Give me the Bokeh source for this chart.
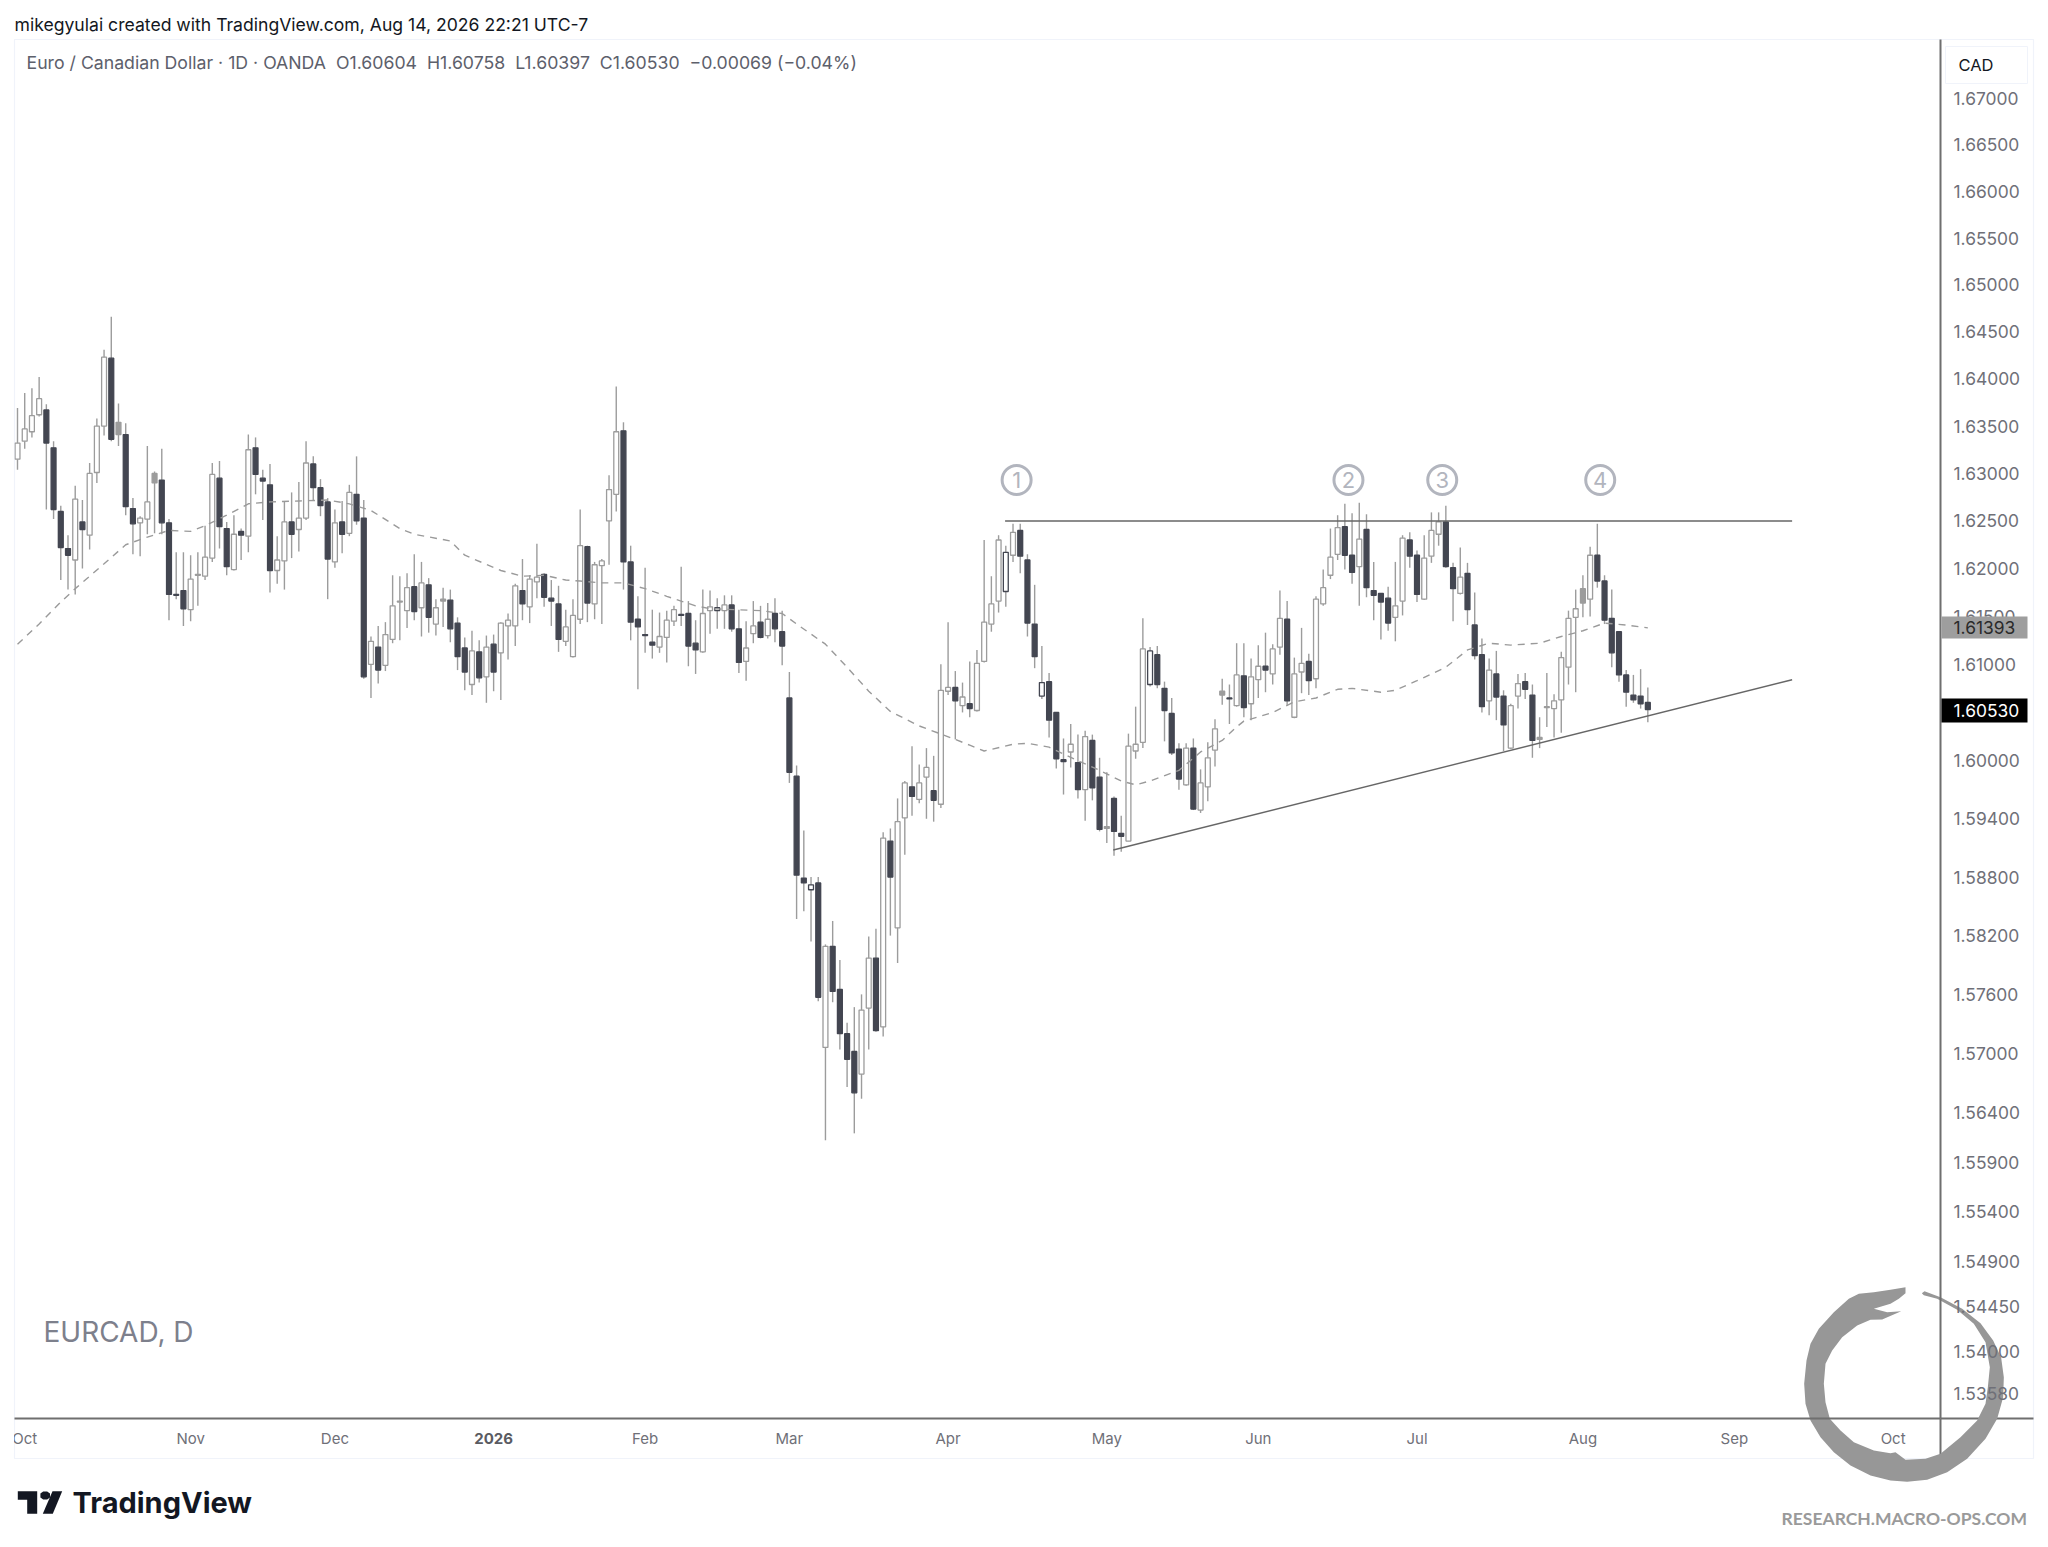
from bokeh.plotting import figure
from bokeh.embed import file_html
from bokeh.resources import INLINE
from bokeh.layouts import column
from bokeh.models import ColumnDataSource, FixedTicker, PrintfTickFormatter, Range1d
from bokeh.core.properties import value
import numpy as np

opens = [1.6315,1.6334,1.6344,1.6362,1.6367,1.6327,1.6260,1.6221,1.6209,1.6249,
1.6235,1.6301,1.6350,1.6422,1.6354,1.6341,1.6263,1.6248,1.6252,1.6300,
1.6293,1.6248,1.6173,1.6177,1.6157,1.6194,1.6192,1.6211,1.6295,1.6242,
1.6199,1.6239,1.6234,1.6327,1.6295,1.6288,1.6198,1.6208,1.6249,1.6241,
1.6253,1.6310,1.6285,1.6270,1.6207,1.6249,1.6237,1.6278,1.6253,1.6100,
1.6118,1.6099,1.6126,1.6166,1.6156,1.6181,1.6159,1.6183,1.6142,1.6168,
1.6167,1.6143,1.6117,1.6079,1.6113,1.6087,1.6121,1.6112,1.6140,1.6140,
1.6177,1.6160,1.6186,1.6194,1.6169,1.6163,1.6124,1.6108,1.6147,1.6223,
1.6163,1.6203,1.6250,1.6278,1.6345,1.6207,1.6147,1.6131,1.6123,1.6118,
1.6128,1.6145,1.6152,1.6153,1.6122,1.6113,1.6156,1.6156,1.6156,1.6162,
1.6137,1.6103,1.6132,1.6144,1.6130,1.6153,1.6134,1.6065,1.5984,1.5879,
1.5867,1.5874,1.5706,1.5809,1.5765,1.5720,1.5702,1.5679,1.5746,1.5797,
1.5727,1.5917,1.5828,1.5941,1.5973,1.5960,1.5983,1.5969,1.5955,1.6072,
1.6076,1.6057,1.6059,1.6052,1.6103,1.6142,1.6166,1.6176,1.6214,1.6240,
1.6209,1.6142,1.6067,1.6082,1.6050,1.6001,1.6009,1.5998,1.5970,1.6021,
1.5983,1.5932,1.5961,1.5925,1.5917,1.6010,1.6019,1.6079,1.6110,1.6075,
1.6049,1.6012,1.5975,1.6013,1.5949,1.5973,1.6011,1.6072,1.6065,1.6057,
1.6088,1.6059,1.6084,1.6098,1.6090,1.6118,1.6147,1.6045,1.6092,1.6103,
1.6085,1.6163,1.6193,1.6215,1.6244,1.6214,1.6202,1.6241,1.6177,1.6174,
1.6169,1.6149,1.6166,1.6230,1.6214,1.6168,1.6213,1.6236,1.6249,1.6201,
1.6174,1.6195,1.6141,1.6110,1.6062,1.6090,1.6067,1.6013,1.6067,1.6082,
1.6068,1.6024,1.6056,1.6054,1.6063,1.6097,1.6149,1.6179,1.6168,1.6214,
1.6187,1.6148,1.6134,1.6089,1.6068,1.6067,1.60604]

closes = [1.6332,1.6347,1.6361,1.6379,1.6332,1.6262,1.6222,1.6214,1.6273,1.6241,
1.6300,1.6350,1.6423,1.6336,1.6341,1.6265,1.6247,1.6253,1.6270,1.6290,
1.6248,1.6173,1.6172,1.6158,1.6189,1.6193,1.6212,1.6299,1.6244,1.6202,
1.6236,1.6235,1.6325,1.6299,1.6292,1.6198,1.6209,1.6249,1.6236,1.6253,
1.6311,1.6285,1.6266,1.6210,1.6248,1.6236,1.6280,1.6250,1.6087,1.6124,
1.6094,1.6131,1.6161,1.6165,1.6180,1.6155,1.6185,1.6149,1.6159,1.6166,
1.6137,1.6108,1.6092,1.6114,1.6086,1.6118,1.6092,1.6143,1.6146,1.6182,
1.6163,1.6189,1.6191,1.6170,1.6166,1.6126,1.6139,1.6151,1.6224,1.6164,
1.6204,1.6208,1.6283,1.6344,1.6207,1.6144,1.6139,1.6130,1.6120,1.6129,
1.6146,1.6157,1.6151,1.6119,1.6115,1.6153,1.6160,1.6159,1.6162,1.6137,
1.6102,1.6117,1.6140,1.6128,1.6147,1.6137,1.6119,1.5988,1.5882,1.5874,
1.5872,1.5757,1.5809,1.5763,1.5720,1.5694,1.5660,1.5744,1.5797,1.5723,
1.5920,1.5880,1.5937,1.5977,1.5963,1.5977,1.5993,1.5959,1.6073,1.6076,
1.6062,1.6066,1.6054,1.6101,1.6144,1.6163,1.6230,1.6217,1.6238,1.6213,
1.6143,1.6108,1.6081,1.6042,1.6002,1.5999,1.6017,1.5970,1.6025,1.5972,
1.5929,1.5930,1.5927,1.5922,1.6015,1.6017,1.6116,1.6114,1.6079,1.6052,
1.6008,1.5981,1.6013,1.5950,1.5977,1.6003,1.6033,1.6068,1.6064,1.6089,
1.6055,1.6087,1.6098,1.6094,1.6116,1.6148,1.6062,1.6090,1.6101,1.6083,
1.6168,1.6180,1.6212,1.6243,1.6214,1.6196,1.6231,1.6180,1.6172,1.6165,
1.6143,1.6161,1.6232,1.6213,1.6173,1.6211,1.6240,1.6249,1.6202,1.6179,
1.6191,1.6157,1.6109,1.6056,1.6094,1.6066,1.6037,1.6057,1.6080,1.6074,
1.6021,1.6022,1.6055,1.6062,1.6107,1.6148,1.6158,1.6164,1.6214,1.6187,
1.6146,1.6112,1.6089,1.6071,1.6063,1.6059,1.60530]

highs = [1.6369,1.6385,1.6390,1.6402,1.6373,1.6334,1.6266,1.6235,1.6287,1.6272,
1.6311,1.6358,1.6431,1.6466,1.6374,1.6353,1.6274,1.6255,1.6329,1.6302,
1.6326,1.6252,1.6217,1.6217,1.6214,1.6217,1.6245,1.6311,1.6313,1.6249,
1.6256,1.6242,1.6341,1.6338,1.6304,1.6310,1.6234,1.6270,1.6280,1.6291,
1.6334,1.6318,1.6294,1.6274,1.6262,1.6271,1.6288,1.6318,1.6272,1.6129,
1.6140,1.6144,1.6193,1.6192,1.6195,1.6215,1.6207,1.6190,1.6168,1.6180,
1.6178,1.6149,1.6128,1.6135,1.6125,1.6130,1.6131,1.6144,1.6153,1.6184,
1.6210,1.6193,1.6226,1.6195,1.6188,1.6182,1.6157,1.6168,1.6262,1.6224,
1.6207,1.6210,1.6298,1.6392,1.6354,1.6224,1.6171,1.6201,1.6157,1.6154,
1.6156,1.6161,1.6202,1.6166,1.6146,1.6178,1.6177,1.6169,1.6172,1.6172,
1.6157,1.6145,1.6166,1.6161,1.6164,1.6169,1.6156,1.6092,1.5995,1.5928,
1.5880,1.5880,1.5811,1.5835,1.5795,1.5731,1.5747,1.5760,1.5819,1.5827,
1.5926,1.5930,1.5961,1.5979,1.6015,1.5996,1.6013,1.6005,1.6100,1.6144,
1.6093,1.6081,1.6103,1.6115,1.6230,1.6192,1.6235,1.6224,1.6247,1.6247,
1.6215,1.6183,1.6119,1.6091,1.6050,1.6023,1.6038,1.6027,1.6031,1.6027,
1.6003,1.5988,1.5963,1.5943,1.6028,1.6056,1.6148,1.6118,1.6119,1.6082,
1.6065,1.6018,1.6018,1.6023,1.5991,1.6019,1.6043,1.6085,1.6079,1.6122,
1.6122,1.6106,1.6120,1.6133,1.6121,1.6177,1.6166,1.6107,1.6138,1.6111,
1.6171,1.6199,1.6242,1.6256,1.6268,1.6258,1.6269,1.6257,1.6207,1.6174,
1.6181,1.6207,1.6235,1.6238,1.6219,1.6235,1.6259,1.6259,1.6266,1.6206,
1.6222,1.6206,1.6175,1.6127,1.6106,1.6114,1.6073,1.6059,1.6090,1.6091,
1.6079,1.6045,1.6091,1.6069,1.6113,1.6156,1.6178,1.6193,1.6223,1.6247,
1.6193,1.6178,1.6134,1.6094,1.6089,1.6095,1.60758]

lows = [1.6304,1.6326,1.6338,1.6360,1.6262,1.6252,1.6188,1.6178,1.6173,1.6200,
1.6220,1.6290,1.6340,1.6334,1.6329,1.6256,1.6215,1.6213,1.6236,1.6237,
1.6236,1.6146,1.6168,1.6140,1.6145,1.6161,1.6188,1.6207,1.6221,1.6193,
1.6198,1.6209,1.6217,1.6278,1.6251,1.6175,1.6184,1.6178,1.6211,1.6218,
1.6251,1.6272,1.6255,1.6168,1.6201,1.6216,1.6234,1.6246,1.6085,1.6065,
1.6080,1.6093,1.6122,1.6125,1.6138,1.6146,1.6129,1.6133,1.6130,1.6139,
1.6123,1.6094,1.6073,1.6068,1.6081,1.6060,1.6072,1.6063,1.6105,1.6119,
1.6146,1.6143,1.6169,1.6160,1.6140,1.6113,1.6119,1.6107,1.6142,1.6144,
1.6147,1.6142,1.6204,1.6260,1.6178,1.6125,1.6074,1.6112,1.6106,1.6112,
1.6102,1.6140,1.6140,1.6098,1.6090,1.6112,1.6132,1.6137,1.6137,1.6134,
1.6091,1.6083,1.6122,1.6127,1.6127,1.6123,1.6099,1.5977,1.5837,1.5845,
1.5814,1.5753,1.5612,1.5752,1.5704,1.5666,1.5619,1.5654,1.5704,1.5722,
1.5717,1.5820,1.5792,1.5903,1.5943,1.5956,1.5940,1.5937,1.5951,1.6068,
1.6022,1.6050,1.6045,1.6051,1.6102,1.6134,1.6154,1.6160,1.6207,1.6195,
1.6129,1.6096,1.6064,1.6024,1.5992,1.5965,1.5993,1.5961,1.5938,1.5959,
1.5927,1.5915,1.5902,1.5906,1.5917,1.6002,1.6013,1.6077,1.6075,1.6020,
1.6006,1.5970,1.5974,1.5949,1.5946,1.5958,1.5994,1.6058,1.6038,1.6056,
1.6045,1.6042,1.6065,1.6071,1.6079,1.6110,1.6057,1.6044,1.6070,1.6068,
1.6075,1.6161,1.6189,1.6209,1.6199,1.6184,1.6161,1.6170,1.6146,1.6126,
1.6135,1.6124,1.6151,1.6201,1.6165,1.6167,1.6206,1.6224,1.6201,1.6145,
1.6173,1.6141,1.6105,1.6050,1.6047,1.6042,1.6010,1.6012,1.6054,1.6064,
1.6003,1.6013,1.6035,1.6024,1.6029,1.6079,1.6071,1.6149,1.6150,1.6180,
1.6142,1.6097,1.6082,1.6056,1.6060,1.6054,1.60397]

# 0-based bar numbers painted differently in the source chart
gray_bars = [14, 19, 25, 53, 59, 151, 167, 211, 212, 217]
outlined_bars = [97, 110, 137, 142, 157]

ma_bars = [0,3,6,8,12,15,18,21,24,26,29,32,35,39,43,46,49,53,55,60,62,67,
           70,73,76,78,81,84,87,90,94,96,103,106,108,112,115,118,121,125,130,
           132,134,138,140,143,147,150,153,155,157,161,164,167,169,170,174,177,180,183,185,189,191,
           194,198,201,204,207,211,214,217,220,223,226]
ma_values = [1.6121,1.6142,1.6165,1.6179,1.6205,1.6225,1.6233,1.6240,1.6239,1.6245,1.6256,1.6268,1.6270,1.6271,
             1.6272,1.6268,1.6261,1.6242,1.6236,1.6229,1.6214,1.6198,
             1.6192,1.6193,1.6188,1.6187,1.6185,1.6185,1.6179,1.6171,1.6161,1.6158,1.6156,1.6153,1.6142,1.6121,
             1.6097,1.6072,1.6051,1.6036,1.6022,
             1.6016,1.6010,1.6017,1.6018,1.6014,1.6000,1.5990,1.5979,1.5975,1.5979,1.5990,1.6009,1.6021,1.6035,
             1.6041,1.6050,1.6061,1.6065,1.6074,1.6075,1.6071,1.6073,
             1.6083,1.6097,1.6115,1.6122,1.6120,1.6122,1.6129,1.6135,1.6143,1.6141,1.6138]

resistance_bars, resistance_prices = [136.9, 246.0], [1.62500, 1.62500]
support_bars, support_prices = [151.9, 246.0], [1.59078, 1.60840]
marker_bars = [138.5, 184.5, 197.5, 219.4]
marker_labels = ["1", "2", "3", "4"]
marker_price = 1.62931

price_ticks = [1.67, 1.665, 1.66, 1.655, 1.65, 1.645, 1.64, 1.635, 1.63, 1.625, 1.62, 1.615, 1.61, 1.60,
               1.594, 1.588, 1.582, 1.576, 1.57, 1.564, 1.559, 1.554, 1.549, 1.5445, 1.54, 1.5358]
month_ticks = [1, 24, 44, 66, 87, 107, 129, 151, 172, 194, 217, 238, 260]
month_labels = ["Oct", "Nov", "Dec", "", "Feb", "Mar", "Apr", "May", "Jun", "Jul", "Aug", "Sep", "Oct"]
year_tick, year_label = 66, "2026"

W, H = 2040, 1539
AXIS = "#6f6f6f"
DARK = "#434651"
GRAY = "#9c9c9c"
TICKTXT = "#6f7078"

p = figure(x_range=Range1d(-0.416, 266.57), y_range=Range1d(1.53336, 1.67639), y_axis_type="log",
           y_axis_location="right", frame_width=1926, frame_height=1379,
           min_border_left=14, min_border_top=39, min_border_right=100, min_border_bottom=121,
           toolbar_location=None, output_backend="svg", outline_line_color=None,
           background_fill_alpha=0, border_fill_alpha=0, margin=(-H, 0, 0, 0), frame_align=False)
p.grid.visible = False

ya = p.yaxis[0]
ya.ticker = FixedTicker(ticks=price_ticks)
ya.formatter = PrintfTickFormatter(format="%.5f")
ya.major_tick_line_color = None
ya.minor_tick_line_color = None
ya.axis_line_color = AXIS
ya.axis_line_width = 2
ya.major_label_standoff = 7
ya.major_label_text_font = "Inter"
ya.major_label_text_font_size = "17.4px"
ya.major_label_text_color = TICKTXT

xa = p.xaxis[0]
xa.ticker = FixedTicker(ticks=month_ticks)
xa.major_label_overrides = {t: (l if l else " ") for t, l in zip(month_ticks, month_labels)}
xa.major_tick_line_color = None
xa.minor_tick_line_color = None
xa.axis_line_color = AXIS
xa.axis_line_width = 2
xa.major_label_standoff = 4
xa.major_label_text_font = "Inter"
xa.major_label_text_font_size = "15px"
xa.major_label_text_color = TICKTXT

bars = np.arange(len(opens))
o, c, hi, lo = map(np.array, (opens, closes, highs, lows))
is_gray = np.isin(bars, gray_bars)
is_out = np.isin(bars, outlined_bars)
is_up = (c >= o) & ~is_gray & ~is_out
is_down = (c < o) & ~is_gray & ~is_out

p.segment(bars, hi, bars, lo, line_color=GRAY, line_width=1.4)


def bodies(mask, fill, line):
    src = ColumnDataSource(dict(x=bars[mask], top=np.maximum(o, c)[mask], bottom=np.minimum(o, c)[mask]))
    p.vbar(x="x", top="top", bottom="bottom", width=0.68, source=src,
           fill_color=fill, line_color=line, line_width=1.3)


bodies(is_up, "white", GRAY)
bodies(is_down, DARK, DARK)
bodies(is_gray, "#9c9c9c", "#9c9c9c")
bodies(is_out, "white", DARK)

p.line(ma_bars, ma_values, line_color="#9a9a9a", line_width=1.4, line_dash="7 6")
p.line(resistance_bars, resistance_prices, line_color="#666666", line_width=1.4)
p.line(support_bars, support_prices, line_color="#666666", line_width=1.4)

p.scatter(marker_bars, [marker_price] * 4, marker="circle", size=29, fill_color="white",
          line_color="#b2b5be", line_width=3)
p.text(marker_bars, [marker_price] * 4, text=marker_labels, text_align="center", text_baseline="middle",
       text_color="#b2b5be", text_font=value("Inter"), text_font_size="22px")


def sheet(**kw):
    f = figure(width=W, height=H, x_range=Range1d(0, W), y_range=Range1d(H, 0), x_axis_type=None, y_axis_type=None,
               min_border=0, toolbar_location=None, output_backend="svg", outline_line_color=None,
               frame_align=False, **kw)
    f.grid.visible = False
    return f


back = sheet(background_fill_color="white", border_fill_color="white")
front = sheet(background_fill_alpha=0, border_fill_alpha=0, margin=(-H, 0, 0, 0))


def poly(f, xs, ys, **kw):
    f.patch(list(xs), list(ys), **kw)


def label(f, x, y, text, font="Inter", size="16px", color="#131722", style="normal", align="left"):
    f.text([x], [y], text=[text], text_font=value(font), text_font_size=size, text_color=color,
           text_font_style=style, text_align=align, text_baseline="middle")


# panel outline
poly(back, [14, 2033, 2033, 14, 14], [39, 39, 1458, 1458, 39], fill_alpha=0, line_color="#f0f3fa", line_width=1.2)
# axis-line extensions
poly(back, [1940, 2033, 2033, 1940], [1417, 1417, 1419, 1419], fill_color=AXIS, line_alpha=0)
poly(back, [1939, 1941, 1941, 1939], [1418, 1418, 1459, 1459], fill_color=AXIS, line_alpha=0)

# ring
ring = [(345,50),(300,58),(250,65),(205,70),(175,85),(130,125),(85,175),(60,220),(48,270),(41,340),(45,400),(60,450),
        (90,500),(130,545),(180,585),(240,615),(300,630),(350,634),(410,628),(470,605),(530,565),(585,505),(620,445),
        (638,380),(640,320),(632,262),(608,210),(570,158),(515,115),(450,80),(402,62),(394,68),(400,74),(440,85),
        (500,118),(550,160),(585,215),(598,290),(592,350),(585,400),(560,450),(510,500),(450,550),(405,565),(345,568),
        (315,545),(300,548),(250,540),(190,515),(150,480),(118,445),(105,395),(100,340),(105,280),(125,240),(155,200),
        (200,165),(240,148),(275,147),(332,122),(290,125),(250,115),(300,100),(325,85),(345,68)]
poly(back, [1790 + a / 3 for a, b in ring], [1270 + b / 3 for a, b in ring], fill_color="#979797", line_alpha=0)

# clip of the first month label
poly(front, [0, 13.5, 13.5, 0], [1425, 1425, 1452, 1452], fill_color="white", line_alpha=0)
label(front, year_tick * 7.214 + 17, 1438, year_label, size="15px", style="bold", color="#5a5b62", align="center")

# header and watermark texts
label(back, 14, 24, "mikegyulai created with TradingView.com, Aug 14, 2026 22:21 UTC-7", size="17.6px")
label(back, 26, 62, "Euro / Canadian Dollar · 1D · OANDA\u00a0\u00a0O1.60604\u00a0\u00a0H1.60758\u00a0\u00a0L1.60397\u00a0\u00a0C1.60530\u00a0\u00a0−0.00069 (−0.04%)",
      size="17.7px", color="#5d606b")
label(back, 43, 1331, "EURCAD, D", size="28px", color="#7d808c")
label(back, 1781, 1518, "RESEARCH.MACRO-OPS.COM", font="Lato", size="17.5px", style="bold", color="#9a9a9a")

# currency box
poly(back, [1945, 2027, 2027, 1945, 1945], [46, 46, 83, 83, 46], fill_color="white", line_color="#f0f3fa", line_width=1)
label(back, 1958, 64, "CAD", size="16.5px")

# last-value tags
poly(front, [1941, 2027, 2027, 1941], [616, 616, 638, 638], fill_color="#9e9e9e", line_alpha=0)
label(front, 1953, 627, "1.61393", size="17.4px", color="#2a2a2a")
poly(front, [1941, 2027, 2027, 1941], [698, 698, 722, 722], fill_color="#000000", line_alpha=0)
label(front, 1953, 710, "1.60530", size="17.4px", color="#ffffff")

# TradingView mark
M = "#131722"
poly(back, [17.3, 36.7, 36.7, 26.7, 26.7, 17.3], [1490.7, 1490.7, 1513.3, 1513.3, 1499.3, 1499.3], fill_color=M, line_alpha=0)
poly(back, [52, 61.7, 52.3, 42.3], [1490.7, 1490.7, 1513.3, 1513.3], fill_color=M, line_alpha=0)
poly(back, [42.7, 46.7, 49.5, 49.5, 46.7, 42.7, 39.9, 39.9], [1491, 1491, 1493, 1497, 1499, 1499, 1497, 1493], fill_color=M, line_alpha=0)
label(back, 72, 1502, "TradingView", size="29px", style="bold")

page = column(back, p, front, spacing=0)
open("out.html", "w").write(file_html(page, INLINE))
